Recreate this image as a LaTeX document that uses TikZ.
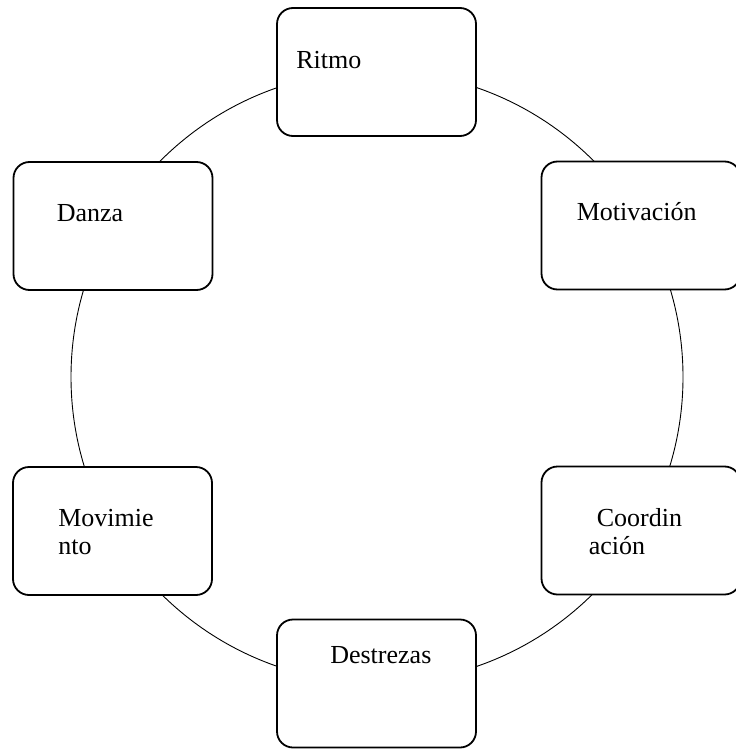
\documentclass[tikz,border=0pt]{standalone}
\usepackage{fontspec}
\setmainfont{Liberation Serif}
\usetikzlibrary{positioning}

\begin{document}
\begin{tikzpicture}[x=1pt, y=-1pt]

			\tikzset{
				ring/.style={line width=0.9pt},
				box/.style={draw, line width=1.8pt, rounded corners=16pt, fill=white,
					minimum width=199pt, minimum height=128pt, inner sep=0pt},
				lbl/.style={inner sep=0pt, anchor=base west, align=left,
					font=\fontsize{26}{28}\selectfont}
			}

			\useasboundingbox (0,0) rectangle (735,751);

			% ---------------------------
			% the ring behind the boxes
			% ---------------------------
			\coordinate (mid) at (377,377);
			\draw[ring] (mid) circle[radius=306pt];

			% ---------------------------
			% six boxes round the ring
			% ---------------------------
			\node[box] (ritmo) at (376.5,72) {};
			\node[box] (motiv) at (641,225.5) {};
			\node[box] (coord) at (641,530.5) {};
			\node[box] (destr) at (376.5,683.5) {};
			\node[box] (movim) at (112.5,531) {};
			\node[box] (danza) at (113,226) {};

			% labels, placed from each box's corner (base = last line)
			\node[lbl] (ritmo-t) at ([shift={(20,61)}]ritmo.north west) {Ritmo};
			\node[lbl] (motiv-t) at ([shift={(36,60)}]motiv.north west) {Motivación};
			\node[lbl] (coord-t) at ([shift={(48,89)}]coord.north west) {\hspace*{8pt}Coordin\\ación};
			\node[lbl] (destr-t) at ([shift={(54,45)}]destr.north west) {Destrezas};
			\node[lbl] (movim-t) at ([shift={(46,88)}]movim.north west) {Movimie\\nto};
			\node[lbl] (danza-t) at ([shift={(44,60)}]danza.north west) {Danza};

\end{tikzpicture}
\end{document}
